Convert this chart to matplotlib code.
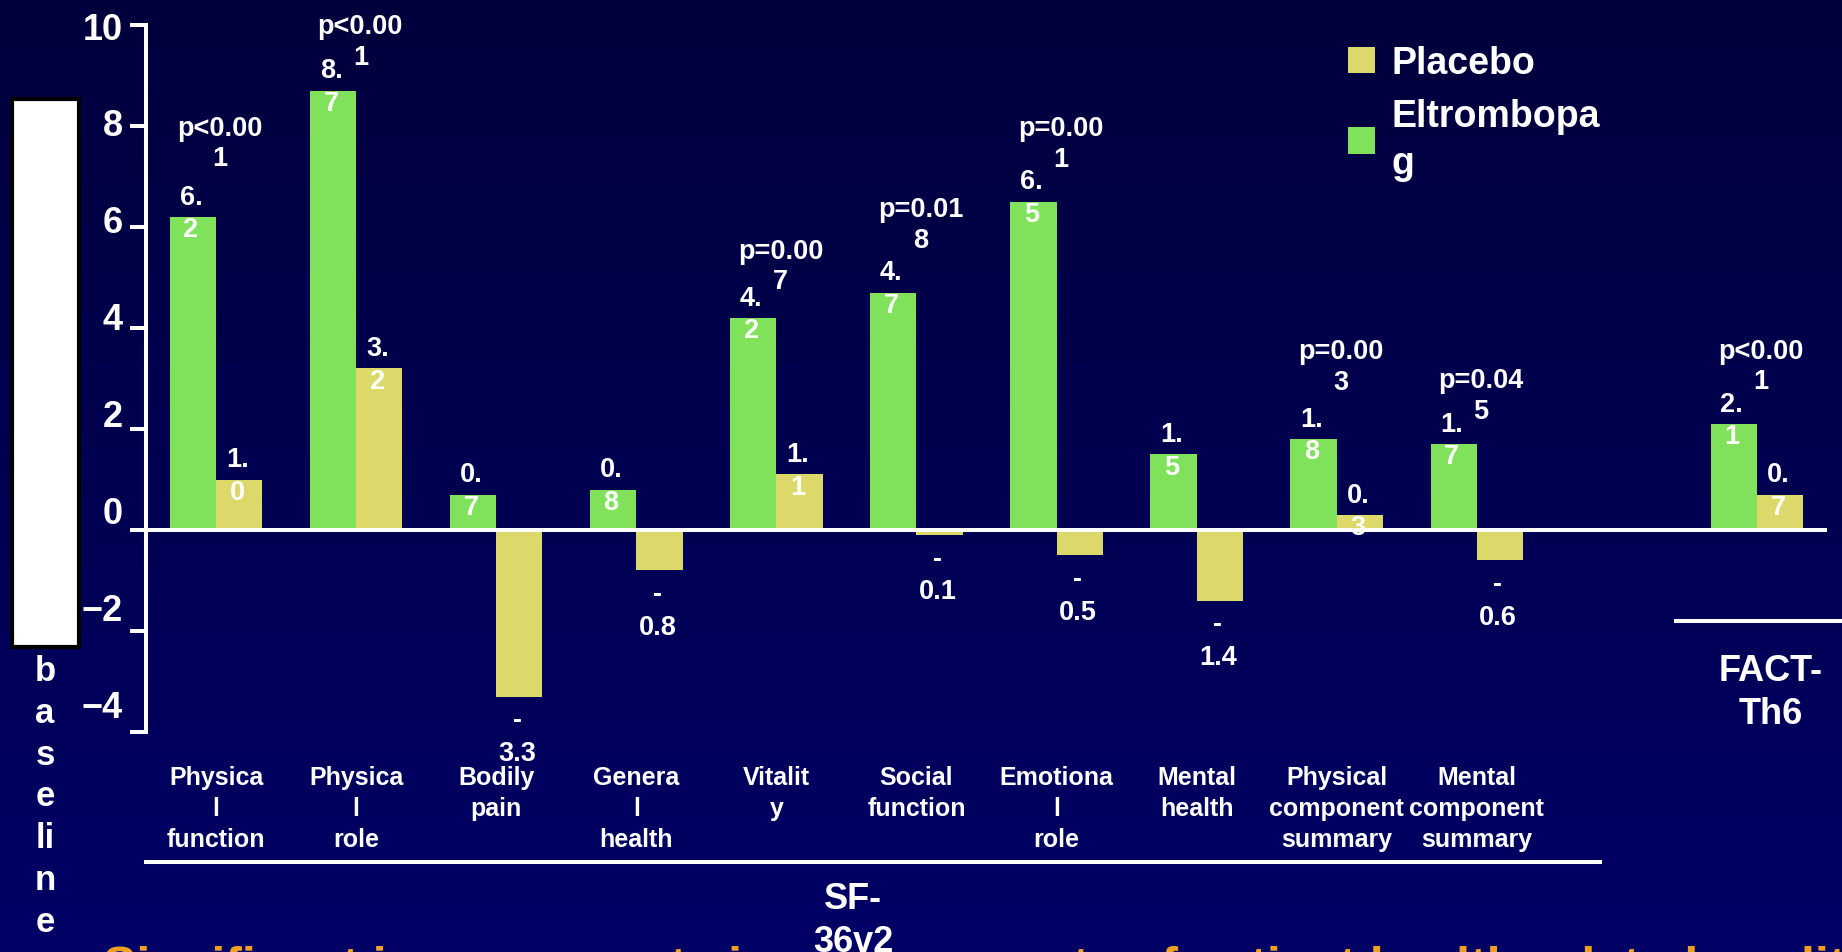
import numpy as np
import matplotlib
matplotlib.use("Agg")
import matplotlib.pyplot as plt
from matplotlib.patches import Rectangle
from matplotlib.transforms import blended_transform_factory

plt.rcParams['font.family'] = ['Liberation Sans', 'DejaVu Sans']
plt.rcParams['font.weight'] = 'bold'

# ---- data -------------------------------------------------------------
categories = ["Physica\nl\nfunction", "Physica\nl\nrole", "Bodily\npain",
              "Genera\nl\nhealth", "Vitalit\ny", "Social\nfunction",
              "Emotiona\nl\nrole", "Mental\nhealth",
              "Physical\ncomponent\nsummary", "Mental\ncomponent\nsummary",
              "FACT-Th6"]
eltrombopag = [6.2, 8.7, 0.7, 0.8, 4.2, 4.7, 6.5, 1.5, 1.8, 1.7, 2.1]
placebo = [1.0, 3.2, -3.3, -0.8, 1.1, -0.1, -0.5, -1.4, 0.3, -0.6, 0.7]
p_values = ["p<0.001", "p<0.001", "", "", "p=0.007", "p=0.018",
            "p=0.001", "", "p=0.003", "p=0.045", "p<0.001"]
y_ticks = [-4, -2, 0, 2, 4, 6, 8, 10]

# ---- layout -----------------------------------------------------------
slots = [0, 1, 2, 3, 4, 5, 6, 7, 8, 9, 11]      # FACT-Th6 sits apart
p_lift_px = [74, 49, 0, 0, 52, 68, 58, 0, 73, 49, 58]
GREEN = '#80E25A'
YELLOW = '#DDD86A'
ORANGE = '#F0A020'
W, H = 1842, 953

fig = plt.figure(figsize=(W / 100, H / 100), dpi=100)

# navy backdrop, a little lighter toward the bottom
bg = fig.add_axes([0, 0, 1, 1], zorder=-10)
grad = np.linspace(0, 1, 256)[:, None]
top = np.array([0, 0, 60]) / 255
bot = np.array([0, 0, 102]) / 255
img = top[None, None, :] * (1 - grad[..., None]) + bot[None, None, :] * grad[..., None]
bg.imshow(img, aspect='auto', extent=[0, 1, 0, 1])
bg.set_axis_off()

ax = fig.add_axes([146 / W, 1 - 733 / H, (1827 - 146) / W, (733 - 26) / H])
ax.set_facecolor('none')

x = np.array(slots, dtype=float)
w = 0.33
ax.bar(x - w / 2, eltrombopag, w, color=GREEN, label='Eltrombopa\ng', zorder=2)
ax.bar(x + w / 2, placebo, w, color=YELLOW, label='Placebo', zorder=2)

ax.set_xlim(-0.5, 11.5)
ax.set_ylim(-4, 10)
ax.axhline(0, color='white', lw=2.9, zorder=3)

for s in ('top', 'right', 'bottom'):
    ax.spines[s].set_visible(False)
ax.spines['left'].set_color('white')
ax.spines['left'].set_linewidth(2.9)

ax.set_yticks(y_ticks)
ax.tick_params(axis='y', colors='white', length=11.5, width=2.9,
               labelleft=False)
ytrans = ax.get_yaxis_transform()
for v in y_ticks:
    ax.annotate(str(v).replace('-', '\u2212'), xy=(0, v), xycoords=ytrans,
                xytext=(-23, 2.05 * (10 - v)), textcoords='offset pixels',
                ha='right', va='center_baseline', fontsize=26, color='white')

ax.set_xticks(slots)
ax.set_xticklabels(categories[:10] + [""], fontsize=18, color='white',
                   linespacing=1.35)
ax.tick_params(axis='x', length=0, pad=24)


def value_text(v):
    s = f"{v:.1f}"
    if v < 0:
        return "-\n" + s[1:]
    return s[:2] + "\n" + s[2:]


for xi, ve, vp in zip(x, eltrombopag, placebo):
    for xb, v in ((xi - w / 2, ve), (xi + w / 2, vp)):
        off = 4 if v >= 0 else -40
        ax.annotate(value_text(v), xy=(xb, v), xytext=(-2, off),
                    textcoords='offset pixels', ha='center', va='center',
                    fontsize=19.5, color='white', linespacing=1.33, zorder=4)

for xi, ve, p, lift in zip(x, eltrombopag, p_values, p_lift_px):
    if p:
        ax.annotate(p[:6] + "\n" + p[6:], xy=(xi + 0.03, ve),
                    xytext=(0, lift), textcoords='offset pixels',
                    ha='center', va='center', fontsize=19.5, color='white',
                    linespacing=1.24, zorder=4)

# scale brackets under the categories
xfig = blended_transform_factory(ax.transData, fig.transFigure)
ax.plot([-0.5, 9.88], [1 - 863 / H] * 2, color='white', lw=2.9,
        transform=xfig, clip_on=False)
ax.plot([10.42, 12.5], [1 - 622 / H] * 2, color='white', lw=2.9,
        transform=xfig, clip_on=False)

fig.text(0.056, 1 - 946 / H,
         "Significant improvements in some aspects of patient health-related quality of life",
         fontsize=36, color=ORANGE, va='top', ha='left', zorder=1)

ax.text(4.55, 1 - 921 / H, "SF-\n36v2", transform=xfig, ha='center',
        va='center', fontsize=26, color='white', linespacing=1.29,
        zorder=5)
ax.text(11.1, 1 - 693 / H, "FACT-\nTh6", transform=xfig, ha='center',
        va='center', fontsize=26, color='white', linespacing=1.32)

# y-axis caption, partly hidden behind the white panel
fig.text(45 / W, 1 - 797 / H, "b\na\ns\ne\nli\nn\ne", ha='center',
         va='center', fontsize=25, color='white', linespacing=1.345)
fig.patches.append(Rectangle((12 / W, 1 - 648 / H), 67 / W, 548 / H,
                             transform=fig.transFigure, facecolor='white',
                             edgecolor='black', lw=3, zorder=6))

handles, labels = ax.get_legend_handles_labels()
leg = ax.legend(handles[::-1], labels[::-1], loc='upper left',
                bbox_to_anchor=(1348 / W, 1 - 46 / H),
                bbox_transform=fig.transFigure, frameon=False, fontsize=27,
                handlelength=0.72, handleheight=0.72, handletextpad=0.45,
                borderpad=0, borderaxespad=0, labelspacing=0.45)
for t in leg.get_texts():
    t.set_color('white')
    t.set_linespacing(1.39)

fig.savefig("out.png", dpi=100)
